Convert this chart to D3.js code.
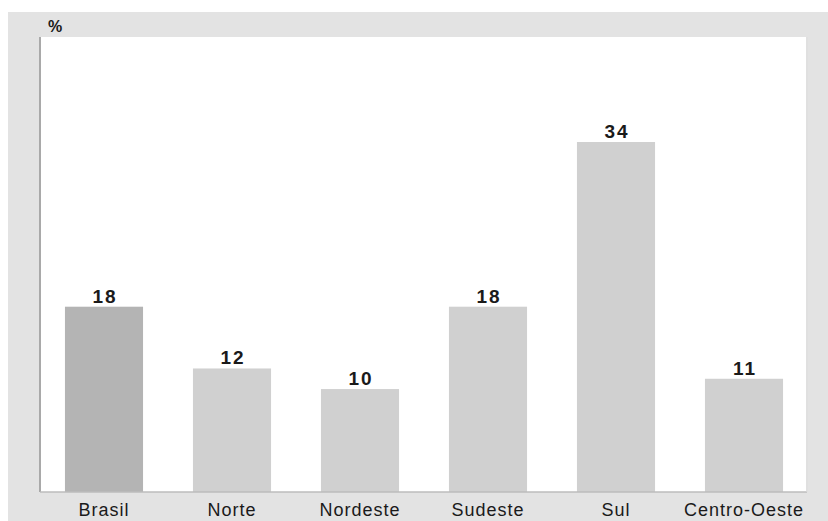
<!DOCTYPE html>
<html lang="pt">
<head>
<meta charset="UTF-8">
<title>Regiões</title>
<script src="https://d3js.org/d3.v7.min.js"></script>
<style>
  body { margin: 0; background: #fff; }
  text { font-family: "Liberation Sans", Arial, sans-serif; fill: #1a1a1a; }
</style>
</head>
<body>
<div id="chart"></div>
<script>
// data
const regions = ["Brasil", "Norte", "Nordeste", "Sudeste", "Sul", "Centro-Oeste"]
const values = [18, 12, 10, 18, 34, 11]
const yMax = 44.2

const W = 828, H = 521
const plot = {left: 40, right: 808, top: 37, bottom: 492}

const svg = d3.select("#chart").append("svg")
    .attr("width", W)
    .attr("height", H)

// grey frame behind the white plot area
svg.append("rect")
    .attr("x", 8).attr("y", 12)
    .attr("width", W - 8).attr("height", H - 12)
    .attr("fill", "#e3e3e3")

svg.append("rect")
    .attr("x", plot.left).attr("y", plot.top)
    .attr("width", plot.right - plot.left).attr("height", plot.bottom - plot.top)
    .attr("fill", "#fff")

const x = d3.scaleBand()
    .domain(regions)
    .range([plot.left, plot.right])
    .paddingInner(0.39)
    .paddingOuter(0.195)

const y = d3.scaleLinear()
    .domain([0, yMax])
    .range([plot.bottom, plot.top])

// bars
svg.selectAll(".bar")
    .data(regions)
    .join("rect")
      .attr("class", "bar")
      .attr("x", d => x(d))
      .attr("y", (d, i) => y(values[i]))
      .attr("width", x.bandwidth())
      .attr("height", (d, i) => y(0) - y(values[i]))
      .attr("fill", (d, i) => i === 0 ? "#b4b4b4" : "#d0d0d0")

// value labels
svg.selectAll(".val")
    .data(regions)
    .join("text")
      .attr("class", "val")
      .attr("x", d => x(d) + x.bandwidth() / 2 + 1)
      .attr("y", (d, i) => y(values[i]) - 4)
      .attr("text-anchor", "middle")
      .style("font-size", "19px")
      .style("font-weight", "bold")
      .style("letter-spacing", "2px")
      .text((d, i) => values[i])

// axes lines
svg.append("line")
    .attr("x1", plot.left).attr("x2", plot.left)
    .attr("y1", plot.top).attr("y2", plot.bottom)
    .attr("stroke", "#a9a9a9").attr("stroke-width", 2)

svg.append("line")
    .attr("x1", plot.left).attr("x2", plot.right - 1)
    .attr("y1", plot.bottom).attr("y2", plot.bottom)
    .attr("stroke", "#bdbdbd").attr("stroke-width", 1.5)

svg.append("line")
    .attr("x1", plot.right - 1).attr("x2", plot.right - 1)
    .attr("y1", plot.top).attr("y2", plot.bottom)
    .attr("stroke", "#d6d6d6").attr("stroke-width", 1.5)

// category axis
const xAxis = svg.append("g")
    .attr("transform", `translate(0, ${plot.bottom})`)
    .call(d3.axisBottom(x).tickSize(0).tickPadding(6))
xAxis.select(".domain").remove()
xAxis.selectAll("text")
    .attr("dy", null)
    .attr("y", 24)
    .style("font-family", "'Liberation Sans', Arial, sans-serif")
    .style("font-size", "18px")
    .style("letter-spacing", "1px")
    .style("fill", "#1a1a1a")

// unit
svg.append("text")
    .attr("x", 55).attr("y", 32)
    .attr("text-anchor", "middle")
    .style("font-size", "16px")
    .style("font-weight", "bold")
    .text("%")
</script>
</body>
</html>
